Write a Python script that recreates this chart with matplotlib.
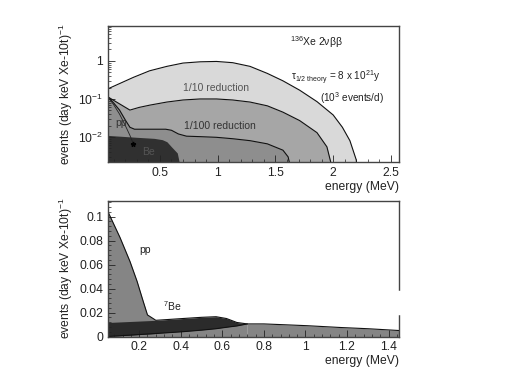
import matplotlib
matplotlib.use("Agg")
import matplotlib.pyplot as plt
from matplotlib.ticker import MultipleLocator, LogLocator, NullFormatter

plt.rcParams['font.family'] = ['Liberation Sans', 'DejaVu Sans']
plt.rcParams['mathtext.fontset'] = 'custom'
plt.rcParams['mathtext.rm'] = 'Liberation Sans'
plt.rcParams['mathtext.it'] = 'Liberation Sans:italic'

# ---- top panel (log scale) ----
light_x = [0.05, 0.27, 0.41, 0.56, 0.70, 0.85, 0.99, 1.13, 1.28, 1.43, 1.565, 1.71, 1.86, 2.0, 2.08, 2.145, 2.2, 2.21]
light_y = [0.185, 0.37, 0.55, 0.72, 0.88, 0.95, 0.97, 0.90, 0.72, 0.47, 0.30, 0.17, 0.085, 0.038, 0.018, 0.008, 0.0025, 0.001]

mid_x = [0.05, 0.24, 0.32, 0.414, 0.56, 0.70, 0.847, 0.99, 1.13, 1.28, 1.43, 1.565, 1.71, 1.86, 1.946, 2.007]
mid_y = [0.113, 0.051, 0.060, 0.069, 0.083, 0.094, 0.10, 0.10, 0.094, 0.083, 0.066, 0.045, 0.027, 0.013, 0.0055, 0.001]

third_x = [0.05, 0.10, 0.15, 0.20, 0.24, 0.28, 0.40, 0.55, 0.60, 0.66, 0.73, 0.85, 0.99, 1.13, 1.28, 1.43, 1.565, 1.61, 1.645]
third_y = [0.113, 0.078, 0.051, 0.028, 0.018, 0.016, 0.016, 0.016, 0.015, 0.012, 0.0105, 0.0102, 0.0098, 0.009, 0.0080, 0.0066, 0.0045, 0.003, 0.001]

be_x = [0.05, 0.30, 0.45, 0.52, 0.56, 0.60, 0.65, 0.69]
be_y = [0.011, 0.0098, 0.0092, 0.0085, 0.0075, 0.0055, 0.0038, 0.001]

ppline_x = [0.05, 0.10, 0.15, 0.20, 0.24, 0.27]
ppline_y = [0.113, 0.07, 0.04, 0.02, 0.011, 0.0066]

# ---- bottom panel (linear) ----
pp_x = [0.05, 0.108, 0.156, 0.19, 0.22, 0.24, 0.276]
pp_y = [0.104, 0.0825, 0.0625, 0.046, 0.029, 0.018, 0.014]

band_x = [0.05, 0.28, 0.41, 0.50, 0.57, 0.62, 0.67, 0.72]
band_top = [0.0117, 0.0135, 0.015, 0.016, 0.0165, 0.015, 0.0117, 0.0105]
band_low = [0.0, 0.0025, 0.004, 0.0053, 0.0065, 0.0077, 0.0088, 0.0105]

tail_x = [0.72, 0.80, 0.90, 1.01, 1.17, 1.30, 1.45]
tail_y = [0.0105, 0.0105, 0.0098, 0.009, 0.0075, 0.0065, 0.005]

fig = plt.figure(figsize=(5.06, 3.79), dpi=100)
ax1 = fig.add_axes([0.2134, 0.5726, 0.5751, 0.3588])
ax2 = fig.add_axes([0.2134, 0.1121, 0.5751, 0.3576])

lw = 0.8
floor = 1e-4
ax1.fill_between(light_x, light_y, floor, color='#d9d9d9', lw=0)
ax1.plot(light_x, light_y, color='#111111', lw=lw)
ax1.fill_between(mid_x, mid_y, floor, color='#a6a6a6', lw=0)
ax1.plot(mid_x, mid_y, color='#111111', lw=lw)
ax1.fill_between(third_x, third_y, floor, color='#8e8e8e', lw=0)
ax1.plot(third_x, third_y, color='#111111', lw=lw)
ax1.fill_between(be_x, be_y, floor, color='#303030', lw=0)
ax1.plot(ppline_x, ppline_y, color='#222222', lw=0.6)
ax1.plot(ppline_x[-1:], ppline_y[-1:], marker='*', color='black', ms=3.5, lw=0)

ax1.set_yscale('log')
ax1.set_xlim(0.05, 2.57)
ax1.set_ylim(0.0022, 8.3)
ax1.set_yticks([1, 0.1, 0.01])
ax1.set_yticklabels(['1', r'$10^{-1}$', r'$10^{-2}$'])
ax1.yaxis.set_minor_locator(LogLocator(base=10, subs=range(2, 10)))
ax1.yaxis.set_minor_formatter(NullFormatter())
ax1.xaxis.set_minor_locator(MultipleLocator(0.1))
ax1.set_xticks([0.5, 1, 1.5, 2, 2.5])
ax1.set_xticklabels(['0.5', '1', '1.5', '2', '2.5'])

ax1.text(0.715, 0.882, '$^{136}$Xe 2νββ', transform=ax1.transAxes,
         ha='center', va='center', fontsize=7.5, color='#222222')
ax1.text(0.784, 0.615, r'τ$_{1/2\ \mathrm{theory}}$ = 8 x 10$^{21}$y', transform=ax1.transAxes,
         ha='center', va='center', fontsize=7.2, color='#222222')
ax1.text(0.838, 0.47, '(10$^{3}$ events/d)', transform=ax1.transAxes,
         ha='center', va='center', fontsize=7.2, color='#222222')
ax1.text(0.371, 0.544, '1/10 reduction', transform=ax1.transAxes,
         ha='center', va='center', fontsize=7.5, color='#555555')
ax1.text(0.385, 0.265, '1/100 reduction', transform=ax1.transAxes,
         ha='center', va='center', fontsize=7.5, color='#333333')
ax1.text(0.024, 0.287, 'pp', transform=ax1.transAxes,
         ha='left', va='center', fontsize=7.5, color='#333333')
ax1.text(0.117, 0.074, 'Be', transform=ax1.transAxes,
         ha='left', va='center', fontsize=7.5, color='#555555')

gray = '#858585'
ax2.fill_between(pp_x, pp_y, 0, color=gray, lw=0)
ax2.fill_between(band_x, band_low, 0, color=gray, lw=0)
ax2.fill_between(tail_x, tail_y, 0, color=gray, lw=0)
ax2.fill_between(band_x, band_top, band_low, color='#2b2b2b', lw=0)
ax2.plot(pp_x + band_x[1:], pp_y + band_top[1:], color='#111111', lw=lw)
ax2.plot(band_x + tail_x[1:], band_low + tail_y[1:], color='#111111', lw=lw)

ax2.set_xlim(0.05, 1.45)
ax2.set_ylim(0, 0.113)
ax2.xaxis.set_minor_locator(MultipleLocator(0.04))
ax2.yaxis.set_minor_locator(MultipleLocator(0.004))
ax2.set_xticks([0.2, 0.4, 0.6, 0.8, 1.0, 1.2, 1.4])
ax2.set_xticklabels(['0.2', '0.4', '0.6', '0.8', '1', '1.2', '1.4'])
ax2.set_yticks([0, 0.02, 0.04, 0.06, 0.08, 0.1])
ax2.set_yticklabels(['0', '0.02', '0.04', '0.06', '0.08', '0.1'])

ax2.text(0.228, 0.072, 'pp', ha='center', va='center', fontsize=7.5, color='#222222')
ax2.text(0.358, 0.025, '$^{7}$Be', ha='center', va='center', fontsize=7.5, color='#222222')

for ax in (ax1, ax2):
    for s in ax.spines.values():
        s.set_color('#444444')
        s.set_linewidth(1.0)
    ax.tick_params(which='both', direction='in', top=False, right=False,
                   labelsize=8.7, colors='#222222')
    ax.tick_params(which='major', length=5, width=0.6)
    ax.tick_params(which='minor', length=2.5, width=0.5)
    ax.set_ylabel('events (day keV Xe-10t)$^{-1}$', fontsize=8.7, color='#222222')
    ax.yaxis.set_label_coords(-0.115, 0.5)
    ax.set_xlabel('energy (MeV)', fontsize=8.7, color='#222222')
    ax.xaxis.set_label_coords(1.0, -0.14)
    ax.xaxis.label.set_horizontalalignment('right')

# small break in the right frame of the lower panel, as in the scan
ax2.plot([1.45, 1.45], [0.02, 0.0375], color='white', lw=2.5, clip_on=False, zorder=5)

fig.savefig('out.png', dpi=100)
